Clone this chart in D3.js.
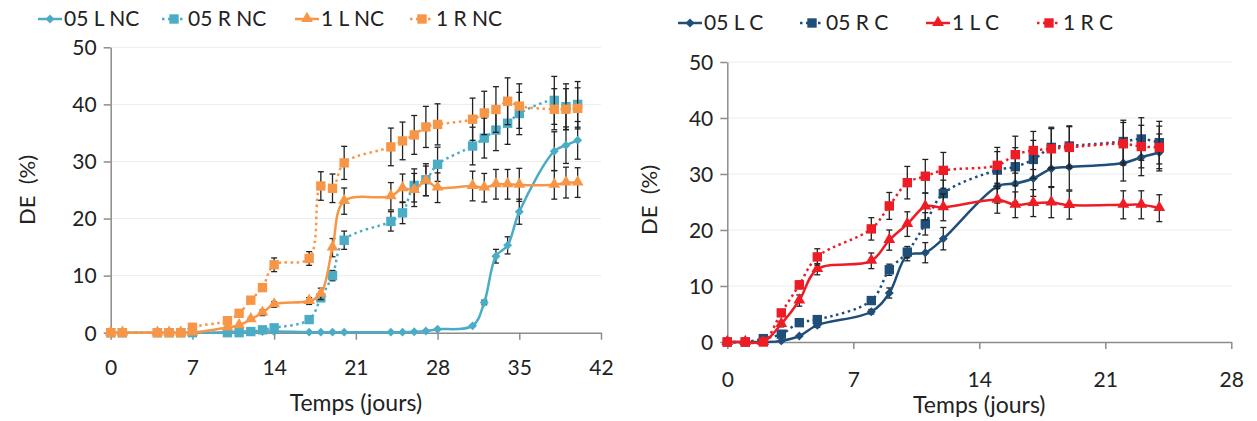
<!DOCTYPE html>
<html>
<head>
<meta charset="utf-8">
<script src="https://cdn.jsdelivr.net/npm/d3@7"></script>
<style>
  html, body { margin: 0; padding: 0; background: #fff; }
  svg text { font-family: Lato, "Open Sans", sans-serif; fill: #222; }
</style>
</head>
<body>
<svg id="chart" width="1257" height="421"></svg>
<script>
// ---------- DATA ----------
// Left chart (NC)
const leftDays = [0,1,4,5,6,7,10,11,12,13,14,17,18,19,20,24,25,26,27,28,31,32,33,34,35,38,39,40];
const l05LNC = [0,0,0,0,0,0, 0.1,0.2,0.2,0.2,0.2, 0.1,0.1,0.1,0.1, 0.1,0.1,0.15,0.3,0.6, 1.2,5.3,13.4,15.3,21.2, 31.8,32.85,33.7];
const l05RNC = [0,0,0,0,0,0, 0,0,0.2,0.5,0.85, 2.3,6.1,10.0,16.2, 19.5,21.0,25.8,26.8,29.5, 32.7,34.1,35.5,36.7,38.4, 40.7,39.6,40.0];
const l1LNC  = [0,0,0,0,0,0, 0.9,1.3,2.35,3.5,4.95, 5.55,6.8,14.9,23.05, 23.9,25.3,25.0,26.6,25.4, 25.7,25.4,26.0,26.0,25.9, 25.9,26.3,26.3];
const l1RNC  = [0,0,0,0,0,0.95, 2.1,3.4,5.7,7.9,11.9, 13.0,25.7,25.3,29.75, 32.55,33.6,34.65,36.05,36.5, 37.4,38.5,39.1,40.55,39.7, 39.15,39.15,39.3];
const e05LNC = [0,0,0,0,0,0, 0,0,0,0,0, 0,0,0,0, 0,0,0,0,0, 0,0.4,1.2,1.5,2.2, 3.4,3.2,3.3];
const e05RNC = [0,0,0,0,0,0, 0,0,0.2,0.3,0.3, 0.4,0.6,0.9,1.6, 1.7,1.9,2.9,2.8,3.0, 3.3,3.5,3.6,3.7,3.7, 4.2,4.0,4.0];
const e1LNC  = [0,0,0,0,0,0, 0,0,0.3,0.5,0.5, 0.6,1.0,1.6,2.3, 2.4,2.5,2.9,2.6,2.6, 2.6,2.5,2.6,2.6,2.9, 2.5,2.7,2.6];
const e1RNC  = [0,0,0,0,0,0, 0,0,0,0.5,1.2, 1.2,2.5,2.5,2.9, 3.3,3.3,3.4,3.6,3.6, 3.7,3.8,4.0,4.1,3.9, 3.6,3.6,3.6];

// Right chart (C)
const rightDays = [0,1,2,3,4,5,8,9,10,11,12,15,16,17,18,19,22,23,24];
const r05LC = [0,0,0,0.2,1.07,3.0,5.4,8.75,15.5,15.95,18.45,27.8,28.3,29.2,30.95,31.25,31.95,33.0,33.85];
const r05RC = [0,0,0.6,1.4,3.45,4.0,7.4,12.9,16.05,21.1,26.5,30.7,31.3,32.6,34.75,35.0,35.8,36.25,35.6];
const r1LC  = [0,0,0,3.2,7.4,13.0,14.5,18.2,21.05,24.2,24.05,25.4,24.5,24.8,24.9,24.45,24.5,24.5,23.9];
const r1RC  = [0,0,0,5.2,10.2,15.2,20.2,24.3,28.45,29.6,30.65,31.55,33.45,34.2,34.5,34.75,35.4,34.9,34.75];
const e05LC = [0,0,0,0,0,0.4,0.4,0.9,1.0,1.8,2.0,3.0,3.3,3.2,3.2,4.1,3.2,3.3,3.3];
const e05RC = [0,0,0,0,0.3,0.4,0.6,1.0,1.0,2.0,2.4,3.3,3.4,3.4,3.6,3.6,3.8,3.8,3.8];
const e1LC  = [0,0,0,0.5,1.0,1.0,1.4,1.8,2.2,2.4,2.4,2.4,2.3,2.4,2.7,2.5,2.5,2.5,2.4];
const e1RC  = [0,0,0,0.4,0.7,1.45,2.0,2.4,2.9,3.0,3.2,3.2,3.3,3.4,3.6,3.7,3.8,3.8,3.8];

const leftNames  = ["05 L NC","05 R NC","1 L NC","1 R NC"];
const rightNames = ["05 L C","05 R C","1 L C","1 R C"];
const leftXTicks  = [0,7,14,21,28,35,42];
const rightXTicks = [0,7,14,21,28];
const yTicks = [0,10,20,30,40,50];
const xTitle = "Temps (jours)";
const yTitle = "DE\u00a0\u00a0(%)";

// ---------- DRAW ----------
const svg = d3.select("#chart");

function marker(sel, type, color) {
  if (type === "diamond") {
    sel.append("path").attr("d", d3.symbol(d3.symbolSquare, 40)()).attr("transform", "rotate(45)")
      .attr("fill", color);
  } else if (type === "square") {
    sel.append("path").attr("d", d3.symbol(d3.symbolSquare, 88)()).attr("fill", color);
  } else {
    sel.append("path").attr("d", d3.symbol(d3.symbolTriangle, 60)()).attr("transform", "translate(0,-0.5)")
      .attr("fill", color);
  }
}

function drawChart(cfg) {
  const x = d3.scaleLinear().domain([0, cfg.xMax]).range([cfg.x0, cfg.x1]);
  const y = d3.scaleLinear().domain([0, 50]).range([cfg.y0, cfg.y1]);
  const g = svg.append("g");

  // gridlines
  g.append("g").selectAll("line").data(yTicks.filter(d => d > 0)).join("line")
    .attr("x1", cfg.x0).attr("x2", cfg.x1)
    .attr("y1", d => y(d)).attr("y2", d => y(d))
    .attr("stroke", "#ececec").attr("stroke-width", 1);

  // axes
  const xa = g.append("g").attr("transform", `translate(0,${cfg.y0})`)
    .call(d3.axisBottom(x).tickValues(cfg.xTicks).tickSize(7).tickSizeOuter(0));
  xa.select(".domain").attr("stroke", "#8c8c8c").attr("stroke-width", 1.5);
  xa.selectAll(".tick line").attr("stroke", "#8c8c8c").attr("stroke-width", 1.5);
  xa.selectAll(".tick text").attr("y", cfg.xLabelOff).attr("dy", "0.35em")
    .style("font-size", "21px").attr("fill", "#222");

  const ya = g.append("g").attr("transform", `translate(${cfg.x0},0)`)
    .call(d3.axisLeft(y).tickValues(yTicks).tickSize(7).tickSizeOuter(0));
  ya.select(".domain").attr("stroke", "#8c8c8c").attr("stroke-width", 1.5);
  ya.selectAll(".tick line").attr("stroke", "#8c8c8c").attr("stroke-width", 1.5);
  ya.selectAll(".tick text").attr("x", -cfg.yLabelOff).attr("dy", "0.35em")
    .style("font-size", "21px").attr("fill", "#222");

  // titles
  g.append("text").attr("x", (cfg.x0 + cfg.x1) / 2).attr("y", cfg.xTitleY)
    .attr("text-anchor", "middle").attr("dy", "0.35em").style("font-size", "23px").text(xTitle);
  g.append("text").attr("transform", `translate(${cfg.yTitleX},${cfg.yTitleY}) rotate(-90)`)
    .attr("text-anchor", "middle").attr("dy", "0.35em").style("font-size", "22px").text(yTitle);

  const line = d3.line().x(d => x(d[0])).y(d => y(d[1])).curve(d3.curveCatmullRom.alpha(0.5));

  cfg.series.forEach(s => {
    const pts = cfg.days.map((d, i) => [d, s.values[i], s.err[i]]);
    const sg = g.append("g");
    // error bars
    const eb = sg.append("g").selectAll("g").data(pts.filter(p => p[2] > 0)).join("g");
    eb.append("line").attr("x1", p => x(p[0])).attr("x2", p => x(p[0]))
      .attr("y1", p => y(p[1] + p[2])).attr("y2", p => y(p[1] - p[2]))
      .attr("stroke", "#222").attr("stroke-width", 1.3);
    [1, -1].forEach(sgn => {
      eb.append("line").attr("x1", p => x(p[0]) - 3).attr("x2", p => x(p[0]) + 3)
        .attr("y1", p => y(p[1] + sgn * p[2])).attr("y2", p => y(p[1] + sgn * p[2]))
        .attr("stroke", "#222").attr("stroke-width", 1.3);
    });
    // line
    sg.append("path").datum(pts).attr("d", line).attr("fill", "none")
      .attr("stroke", s.color).attr("stroke-width", 2.5)
      .attr("stroke-dasharray", s.dotted ? "2.5,3.5" : null);
    // markers
    sg.append("g").selectAll("g").data(pts).join("g")
      .attr("transform", p => `translate(${x(p[0])},${y(p[1])})`)
      .each(function () { marker(d3.select(this), s.marker, s.color); });
  });

  // legend
  cfg.series.forEach((s, i) => {
    const lg = g.append("g").attr("transform", `translate(${cfg.legendX[i]},${cfg.legendY})`);
    lg.append("line").attr("x1", 0).attr("x2", 24).attr("y1", 0).attr("y2", 0)
      .attr("stroke", s.color).attr("stroke-width", 2.5)
      .attr("stroke-dasharray", s.dotted ? "2.5,3.5" : null);
    const mg = lg.append("g").attr("transform", "translate(12,0)");
    marker(mg, s.marker, s.color);
    lg.append("text").attr("x", 26).attr("y", 0).attr("dy", "0.35em")
      .style("font-size", "21px").text(cfg.names[i]);
  });
}

const cBlue = "#4bacc6", cOrange = "#f79646", cNavy = "#1f4e79", cRed = "#ee1c25";

drawChart({
  x0: 110.7, x1: 601, y0: 332.7, y1: 47.3, xMax: 42,
  xTicks: leftXTicks, days: leftDays, names: leftNames,
  xLabelOff: 35, yLabelOff: 14, xTitleY: 403, yTitleX: 27, yTitleY: 190,
  legendX: [38, 162, 295, 410], legendY: 19,
  series: [
    {values: l05LNC, err: e05LNC, color: cBlue, marker: "diamond", dotted: false},
    {values: l05RNC, err: e05RNC, color: cBlue, marker: "square", dotted: true},
    {values: l1LNC, err: e1LNC, color: cOrange, marker: "triangle", dotted: false},
    {values: l1RNC, err: e1RNC, color: cOrange, marker: "square", dotted: true}
  ]
});

drawChart({
  x0: 727.3, x1: 1231.3, y0: 342, y1: 62, xMax: 28,
  xTicks: rightXTicks, days: rightDays, names: rightNames,
  xLabelOff: 38, yLabelOff: 14, xTitleY: 405, yTitleX: 649, yTitleY: 200,
  legendX: [678, 800, 926, 1037], legendY: 23,
  series: [
    {values: r05LC, err: e05LC, color: cNavy, marker: "diamond", dotted: false},
    {values: r05RC, err: e05RC, color: cNavy, marker: "square", dotted: true},
    {values: r1LC, err: e1LC, color: cRed, marker: "triangle", dotted: false},
    {values: r1RC, err: e1RC, color: cRed, marker: "square", dotted: true}
  ]
});
</script>
</body>
</html>
